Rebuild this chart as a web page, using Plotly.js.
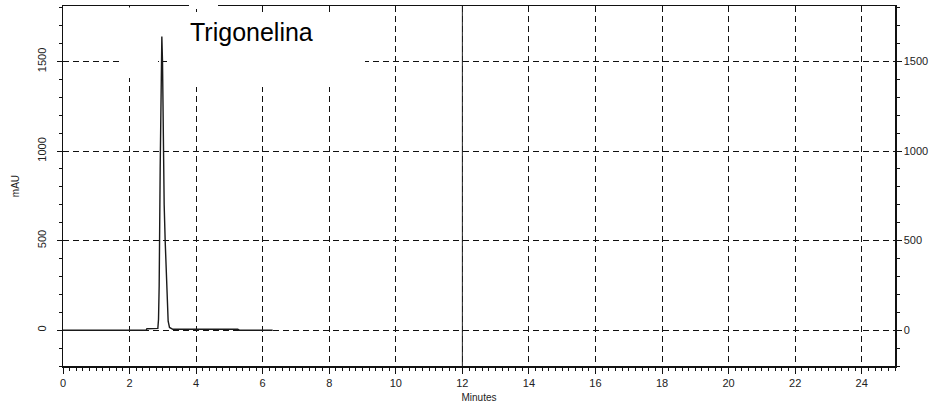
<!DOCTYPE html>
<html><head><meta charset="utf-8">
<script src="https://cdn.plot.ly/plotly-3.0.1.min.js"></script>
<style>html,body{margin:0;padding:0;background:#fff}#c{width:933px;height:407px}</style>
</head><body><div id="c"></div>
<script>
const minutes = [0, 2.5, 2.52, 2.85, 2.87, 2.89, 2.92, 2.95, 2.97, 2.99, 3.01, 3.04, 3.07, 3.10, 3.13, 3.16, 3.20, 3.25, 3.30, 4.0, 5.0, 5.25, 5.30, 6.3];
const mAU     = [0, 0, 8, 10, 60, 250, 900, 1250, 1640, 1500, 1100, 700, 500, 300, 120, 50, 15, 8, 5, 5, 6, 5, 0, 0];
const xTicks = [0, 2, 4, 6, 8, 10, 12, 14, 16, 18, 20, 22, 24];
const yTicks = [0, 500, 1000, 1500];
const titleText = 'Trigonelina';
const xTitle = 'Minutes';
const yTitle = 'mAU';

const font = {family: 'Liberation Sans, Arial, sans-serif', size: 11, color: '#222'};
const grid = {showgrid: true, gridcolor: '#111', gridwidth: 1, griddash: '6px,4px'};

// plot area in pixels: x 63..895 (832), y 6..366 (360)
const PX = v => (v - 63) / 832;
const PY = v => (366 - v) / 360;

const traces = [
  {x: minutes, y: mAU, type: 'scatter', mode: 'lines', line: {color: '#1a1a1a', width: 1.4, shape: 'linear'}, hoverinfo: 'skip', showlegend: false},
  {x: minutes, y: mAU, xaxis: 'x2', yaxis: 'y2', type: 'scatter', mode: 'lines', line: {color: 'rgba(0,0,0,0)', width: 0}, hoverinfo: 'skip', showlegend: false}
];

const layout = {
  width: 933, height: 407,
  margin: {l: 63, r: 38, t: 6, b: 41},
  paper_bgcolor: '#fff', plot_bgcolor: '#fff',
  font: font,
  showlegend: false,
  xaxis: Object.assign({
    range: [0, 25], tickvals: xTicks, ticktext: xTicks.map(String),
    ticks: 'outside', ticklen: 6, tickwidth: 1, tickcolor: '#111',
    minor: {dtick: 0.2, ticks: 'outside', ticklen: 3, tickcolor: '#111', showgrid: false},
    showline: true, linecolor: '#111', linewidth: 1.5, mirror: true,
    zeroline: false, tickfont: {size: 11, color: '#222'},
    title: {text: xTitle, font: {size: 10, color: '#222'}, standoff: 6}
  }, grid),
  xaxis2: {
    overlaying: 'x', range: [0, 25], dtick: 1, tick0: 0, ticks: 'outside', ticklen: 4, tickcolor: '#111',
    showticklabels: false, showgrid: false, zeroline: false, side: 'bottom', anchor: 'y'
  },
  yaxis: Object.assign({
    range: [-200, 1810], tickvals: yTicks, ticktext: yTicks.map(String), tickangle: -90,
    ticks: 'outside', ticklen: 5, tickcolor: '#111', ticklabelstandoff: 6,
    minor: {dtick: 100, tick0: 0, ticks: 'outside', ticklen: 3, tickcolor: '#111', showgrid: false},
    showline: true, linecolor: '#111', linewidth: 1.5,
    zeroline: false, tickfont: {size: 11, color: '#222'},
    title: {text: yTitle, font: {size: 10, color: '#222'}, standoff: 14}
  }, grid),
  yaxis2: {
    overlaying: 'y', side: 'right', anchor: 'x', range: [-200, 1810], tickvals: yTicks, ticktext: yTicks.map(String),
    ticks: 'outside', ticklen: 5, tickcolor: '#111',
    minor: {dtick: 100, tick0: 0, ticks: 'outside', ticklen: 3, tickcolor: '#111', showgrid: false},
    showline: true, linecolor: '#111', linewidth: 1.5, showgrid: false, zeroline: false,
    tickfont: {size: 11, color: '#222'}
  },
  shapes: [
    {type: 'rect', xref: 'paper', yref: 'paper', x0: PX(123), x1: PX(158), y0: PY(78), y1: PY(7.5),
     fillcolor: '#fff', line: {width: 0}, layer: 'above'},
    {type: 'rect', xref: 'paper', yref: 'paper', x0: PX(167), x1: PX(365), y0: PY(87), y1: PY(16),
     fillcolor: '#fff', line: {width: 0}, layer: 'above'},
    {type: 'line', xref: 'x', yref: 'paper', x0: 12, x1: 12, y0: 0, y1: 1, line: {color: '#222', width: 1}, layer: 'above'},
    {type: 'rect', xref: 'paper', yref: 'paper', x0: PX(189), x1: PX(218), y0: PY(9), y1: PY(2),
     fillcolor: '#fff', line: {width: 0}, layer: 'above'}
  ],
  annotations: [
    {text: titleText, xref: 'paper', yref: 'paper', x: PX(188), y: PY(16), xanchor: 'left', yanchor: 'top',
     showarrow: false, font: {family: 'Liberation Sans, Arial, sans-serif', size: 25, color: '#000'}}
  ]
};

Plotly.newPlot('c', traces, layout, {staticPlot: true, displayModeBar: false});
</script></body></html>
